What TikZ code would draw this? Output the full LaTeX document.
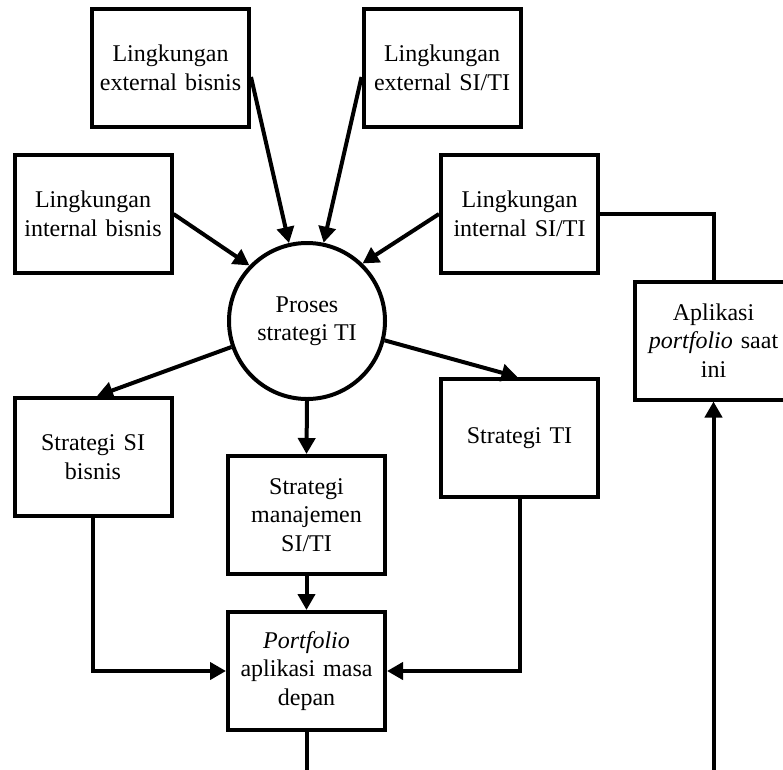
\documentclass[tikz,border=0pt]{standalone}
\usepackage{fontspec}
\setmainfont{Liberation Serif}
\usetikzlibrary{arrows.meta}
\begin{document}
\begin{tikzpicture}[x=1pt,y=-1pt,
  every node/.style={font=\fontsize{24}{28.5}\selectfont},
  box/.style={draw,line width=4pt,minimum width=157pt,minimum height=118pt,text width=150pt,align=center,inner sep=0pt},
  circ/.style={draw,circle,line width=4pt,minimum size=156pt,align=center,inner sep=0pt},
  conn/.style={line width=4pt},
  arr/.style={conn,-{Triangle[length=16pt 0,width=17pt 0]}}]
\useasboundingbox (0,0) rectangle (783,769);
\clip (0,0) rectangle (783,769);
\node[box] (eb) at (170.5,68) {Lingkungan\\external bisnis};
\node[box] (es) at (442,68) {Lingkungan\\external SI/TI};
\node[box] (ib) at (93,214) {Lingkungan\\internal bisnis};
\node[box] (is) at (519.5,214) {Lingkungan\\internal SI/TI};
\node[circ] (c) at (307,321) {Proses\\strategi TI};
\node[box] (ap) at (713.5,340.5) {Aplikasi\\\textit{portfolio} saat\\ini};
\node[box] (sb) at (93,457) {Strategi SI\\bisnis};
\node[box] (st) at (519.5,438) {Strategi TI};
\node[box] (sm) at (306.5,515) {Strategi\\manajemen\\SI/TI};
\node[box] (pf) at (306.5,671) {\textit{Portfolio}\\aplikasi masa\\depan};
\coordinate (pfend) at (306.5,775);
\coordinate (apstart) at (713.5,775);
\draw[arr] ([yshift=-9pt]eb.east) -- (c.103.7);
\draw[arr] ([yshift=-9pt]es.west) -- (c.78.4);
\draw[arr] (ib.east) -- (c.136.5);
\draw[arr] (is.west) -- (c.46);
\draw[arr] (c.199) -- ([xshift=4pt]sb.north);
\draw[arr] (c.south) -- (sm.north);
\draw[arr] (c.346) -- ([xshift=-2pt]st.north);
\draw[arr] (sm.south) -- (pf.north);
\draw[arr] (sb.south) |- (pf.west);
\draw[arr] (st.south) |- (pf.east);
\draw[conn] (pf.south) -- (pfend);
\draw[arr] (apstart) -- (ap.south);
\draw[conn] (is.east) -| (ap.north);
\end{tikzpicture}
\end{document}
